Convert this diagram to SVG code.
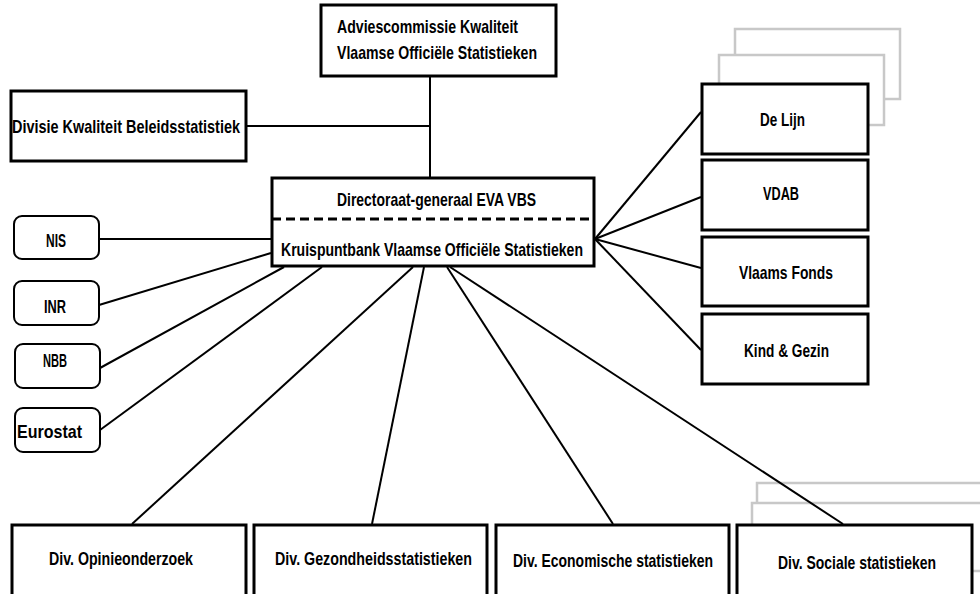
<svg xmlns="http://www.w3.org/2000/svg" width="980" height="594" viewBox="0 0 980 594">
<style>
.box{fill:#fff;stroke:#000;stroke-width:3}
.rbox{fill:#fff;stroke:#000;stroke-width:2}
.ghost{fill:#fff;stroke:#c8c8c8;stroke-width:2.5}
.t{font-family:"Liberation Sans Narrow","Liberation Sans",Arial,sans-serif;font-weight:bold;font-size:19px;fill:#000}
.c{stroke:#000;stroke-width:2;fill:none}
</style>
<rect width="980" height="594" fill="#fff"/>
<g id="adviescommissie">
<rect class="box" x="321" y="5" width="235" height="71"/>
<text class="t" x="337" y="33" textLength="181" lengthAdjust="spacingAndGlyphs">Adviescommissie Kwaliteit</text>
<text class="t" x="337" y="59" textLength="200" lengthAdjust="spacingAndGlyphs">Vlaamse Officiële Statistieken</text>
</g>
<g id="divisie-kwaliteit">
<rect class="box" x="11" y="91" width="235" height="70"/>
<text class="t" x="12" y="133" textLength="228" lengthAdjust="spacingAndGlyphs">Divisie Kwaliteit Beleidsstatistiek</text>
</g>
<g id="directoraat">
<rect class="box" x="272" y="178" width="322" height="88"/>
<line x1="272" y1="219" x2="594" y2="219" stroke="#000" stroke-width="3" stroke-dasharray="9 5"/>
<text class="t" x="337" y="206" textLength="199" lengthAdjust="spacingAndGlyphs">Directoraat-generaal EVA VBS</text>
<text class="t" x="281" y="256" textLength="302" lengthAdjust="spacingAndGlyphs">Kruispuntbank Vlaamse Officiële Statistieken</text>
</g>
<g id="nis">
<rect class="rbox" x="14" y="216" width="85" height="43" rx="8"/>
<text class="t" x="46" y="247" textLength="20" lengthAdjust="spacingAndGlyphs">NIS</text>
</g>
<g id="inr">
<rect class="rbox" x="14" y="281" width="85" height="44" rx="8"/>
<text class="t" x="44" y="313" textLength="22" lengthAdjust="spacingAndGlyphs">INR</text>
</g>
<g id="nbb">
<rect class="rbox" x="15" y="344" width="85" height="44" rx="8"/>
<text class="t" x="43" y="367" textLength="24" lengthAdjust="spacingAndGlyphs">NBB</text>
</g>
<g id="eurostat">
<rect class="rbox" x="15" y="408" width="85" height="44" rx="8"/>
<text class="t" x="17" y="438" textLength="65" lengthAdjust="spacingAndGlyphs">Eurostat</text>
</g>
<g id="de-lijn">
<rect class="ghost" x="735" y="29" width="165" height="70"/>
<rect class="ghost" x="719" y="55" width="165" height="70"/>
<rect class="box" x="702" y="84" width="166" height="70"/>
<text class="t" x="760" y="126" textLength="45" lengthAdjust="spacingAndGlyphs">De Lijn</text>
</g>
<g id="vdab">
<rect class="box" x="702" y="160" width="166" height="70"/>
<text class="t" x="763" y="200" textLength="36" lengthAdjust="spacingAndGlyphs">VDAB</text>
</g>
<g id="vlaams-fonds">
<rect class="box" x="702" y="237" width="166" height="69"/>
<text class="t" x="739" y="279" textLength="94" lengthAdjust="spacingAndGlyphs">Vlaams Fonds</text>
</g>
<g id="kind-gezin">
<rect class="box" x="702" y="314" width="166" height="70"/>
<text class="t" x="744" y="357" textLength="85" lengthAdjust="spacingAndGlyphs">Kind &amp; Gezin</text>
</g>
<g id="div-opinie">
<rect class="box" x="12" y="525" width="234" height="72"/>
<text class="t" x="49" y="565" textLength="144" lengthAdjust="spacingAndGlyphs">Div. Opinieonderzoek</text>
</g>
<g id="div-gezondheid">
<rect class="box" x="254" y="525" width="233" height="72"/>
<text class="t" x="275" y="565" textLength="197" lengthAdjust="spacingAndGlyphs">Div. Gezondheidsstatistieken</text>
</g>
<g id="div-economische">
<rect class="box" x="496" y="525" width="233" height="72"/>
<text class="t" x="513" y="567" textLength="200" lengthAdjust="spacingAndGlyphs">Div. Economische statistieken</text>
</g>
<g id="div-sociale">
<rect class="ghost" x="757" y="483" width="240" height="68"/>
<rect class="ghost" x="752" y="503" width="240" height="68"/>
<rect class="box" x="737" y="525" width="235" height="72"/>
<text class="t" x="778" y="569" textLength="158" lengthAdjust="spacingAndGlyphs">Div. Sociale statistieken</text>
</g>
<g id="connectors">
<line class="c" x1="430" y1="77" x2="430" y2="177"/>
<line class="c" x1="247" y1="126" x2="430" y2="126"/>
<line class="c" x1="99" y1="239" x2="271" y2="239"/>
<line class="c" x1="99" y1="305" x2="271" y2="253"/>
<line class="c" x1="100" y1="368" x2="284" y2="267"/>
<line class="c" x1="100" y1="430" x2="322" y2="267"/>
<line class="c" x1="132" y1="524" x2="413" y2="267"/>
<line class="c" x1="372" y1="524" x2="424" y2="267"/>
<line class="c" x1="613" y1="524" x2="447" y2="267"/>
<line class="c" x1="843" y1="524" x2="450" y2="267"/>
<line class="c" x1="595" y1="239" x2="701" y2="112"/>
<line class="c" x1="595" y1="239" x2="701" y2="197"/>
<line class="c" x1="595" y1="239" x2="701" y2="268"/>
<line class="c" x1="595" y1="239" x2="701" y2="350"/>
</g>
</svg>
